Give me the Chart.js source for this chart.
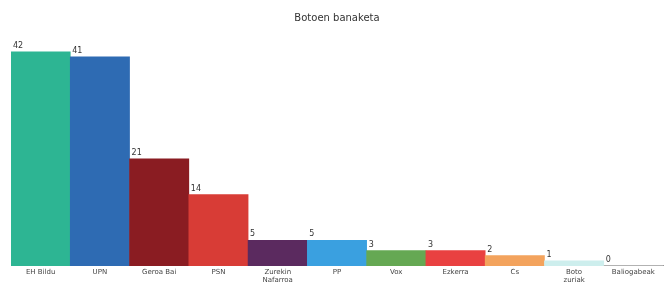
<!DOCTYPE html>
<html><head><meta charset="utf-8">
<script src="https://cdn.jsdelivr.net/npm/chart.js@4"></script>
<style>html,body{margin:0;padding:0;background:#fff;}</style>
</head><body>
<canvas id="c" width="671" height="286"></canvas>
<script>
const categories = ["EH Bildu","UPN","Geroa Bai","PSN",["Zurekin","Nafarroa"],"PP","Vox","Ezkerra","Cs",["Boto","zuriak"],"Baliogabeak"];
const values = [42,41,21,14,5,5,3,3,2,1,0];
const colors = ["#2db593","#2e6bb3","#8a1c22","#d83c36","#5b2a5f","#3aa0e0","#65a853","#e94141","#f3a35d","#cdeeed","#cccccc"];
const title = "Botoen banaketa";

const labelPlugin = {
  id:'lbl',
  afterDatasetsDraw(chart){
    const ctx = chart.ctx;
    const meta = chart.getDatasetMeta(0);
    ctx.save();
    ctx.font = '8px "DejaVu Sans", sans-serif';
    ctx.fillStyle = '#333';
    ctx.textBaseline = 'bottom';
    ctx.textAlign = 'left';
    meta.data.forEach((b,i)=>{
      ctx.fillText(String(values[i]), b.x - b.width/2 + 2, b.y - 2);
    });
    ctx.restore();
  }
};

new Chart(document.getElementById('c'),{
  type:'bar',
  data:{labels:categories,datasets:[{data:values,backgroundColor:colors,borderWidth:0,categoryPercentage:1,barPercentage:1}]},
  options:{
    responsive:false,animation:false,
    layout:{padding:{left:11,right:8,top:6,bottom:0}},
    plugins:{legend:{display:false},tooltip:{enabled:false},
      title:{display:true,text:title,color:'#333',font:{family:'"DejaVu Sans", sans-serif',size:10,weight:'normal'},padding:{top:6,bottom:14}}},
    scales:{
      y:{display:false,min:0,max:44.7},
      x:{grid:{display:true,drawOnChartArea:false,drawTicks:false,tickLength:0},border:{display:true,color:'#999'},
        ticks:{color:'#444',font:{family:'"DejaVu Sans", sans-serif',size:7,lineHeight:1.15},maxRotation:0,autoSkip:false,padding:2}}
    }
  },
  plugins:[labelPlugin]
});
</script>
</body></html>
